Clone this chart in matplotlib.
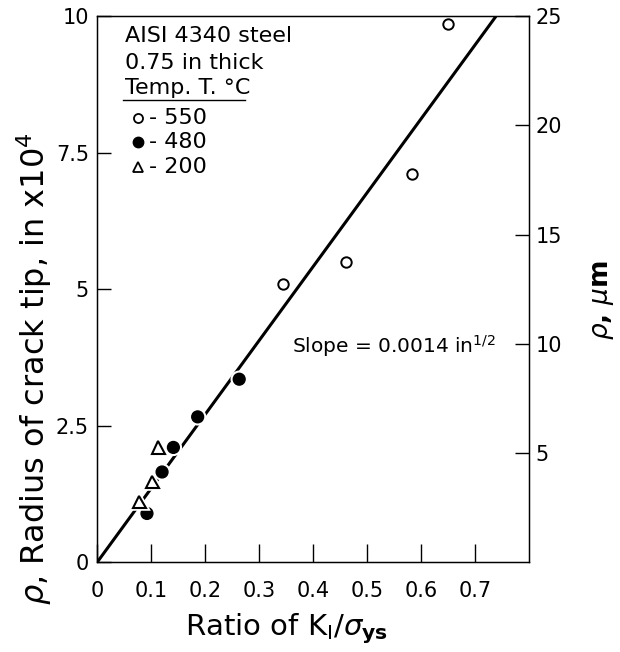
import numpy as np
import matplotlib
matplotlib.use("Agg")
import matplotlib.pyplot as plt
import matplotlib.patheffects as pe

plt.rcParams['font.family'] = ['DejaVu Sans']
plt.rcParams['mathtext.fontset'] = 'dejavusans'

# data (rho in units of 1e-4 in)
x_550 = [0.345, 0.461, 0.583, 0.650]
y_550 = [5.10, 5.50, 7.11, 9.85]
x_480 = [0.092, 0.120, 0.141, 0.186, 0.263]
y_480 = [0.89, 1.65, 2.10, 2.66, 3.35]
x_200 = [0.078, 0.102, 0.113]
y_200 = [1.10, 1.47, 2.10]
fit_x = [0.0, 0.739]
fit_y = [0.0, 10.0]

xticks = [0, 0.1, 0.2, 0.3, 0.4, 0.5, 0.6, 0.7]
xticklabels = ['0', '0.1', '0.2', '0.3', '0.4', '0.5', '0.6', '0.7']
yticks = [0, 2.5, 5, 7.5, 10]
yticklabels = ['0', '2.5', '5', '7.5', '10']
rticks = [5, 10, 15, 20, 25]

fig = plt.figure(figsize=(6.2, 6.52), dpi=100)
ax = fig.add_axes([0.157, 0.138, 0.853 - 0.157, 0.975 - 0.138])

halo = [pe.withStroke(linewidth=4, foreground='white')]

ax.plot(fit_x, fit_y, color='black', lw=2.2, solid_capstyle='butt', zorder=2)
ax.plot(x_550, y_550, 'o', ms=7.5, mfc='white', mec='black', mew=1.4, zorder=3)
ax.plot(x_480, y_480, 'o', ms=8.5, mfc='black', mec='black', mew=1,
        path_effects=halo, zorder=3)
ax.plot(x_200, y_200, '^', ms=9, mfc='white', mec='black', mew=1.5,
        path_effects=halo, zorder=3)

ax.set_xlim(0, 0.8)
ax.set_ylim(0, 10)
ax.set_xticks(xticks)
ax.set_xticklabels(xticklabels)
ax.set_yticks(yticks)
ax.set_yticklabels(yticklabels)
ax.tick_params(axis='x', direction='in', length=13, width=1, labelsize=15, pad=14)
ax.tick_params(axis='y', direction='in', length=10, width=1, labelsize=15, pad=6)
for s in ax.spines.values():
    s.set_linewidth(1)

ax.set_xlabel(r'Ratio of K$_{\rm I}$/$\sigma_{\bf ys}$', fontsize=21)
ax.xaxis.set_label_coords(0.439, -0.09)
ax.set_ylabel(r'$\rho$, Radius of crack tip, in x10$^4$', fontsize=23)
ax.yaxis.set_label_coords(-0.10, 0.355)

ax2 = ax.twinx()
ax2.set_ylim(0, 25)
ax2.set_yticks(rticks)
ax2.tick_params(axis='y', direction='in', length=10, width=1, labelsize=15, pad=5)
ax2.set_ylabel(r'$\rho$, $\mu$m', fontsize=19, fontweight='bold')
ax2.yaxis.set_label_coords(1.141, 0.48)

ax.text(0.361, 3.96, r'Slope = 0.0014 in$^{1/2}$', fontsize=14.5, va='center', ha='left')

# legend block
tx = 0.064
ax.text(tx, 0.963, 'AISI 4340 steel', transform=ax.transAxes, fontsize=16, va='center')
ax.text(tx, 0.914, '0.75 in thick', transform=ax.transAxes, fontsize=16, va='center')
ax.text(tx, 0.868, 'Temp. T. °C', transform=ax.transAxes, fontsize=16, va='center')
ax.plot([0.059, 0.342], [0.846, 0.846], color='black', lw=1, transform=ax.transAxes)
ax.plot([0.094], [0.813], 'o', ms=6.5, mfc='white', mec='black', mew=1.3, transform=ax.transAxes)
ax.plot([0.094], [0.769], 'o', ms=7.5, mfc='black', mec='black', transform=ax.transAxes)
ax.plot([0.094], [0.723], '^', ms=7.5, mfc='white', mec='black', mew=1.3, transform=ax.transAxes)
ax.text(0.12, 0.813, '- 550', transform=ax.transAxes, fontsize=16, va='center')
ax.text(0.12, 0.769, '- 480', transform=ax.transAxes, fontsize=16, va='center')
ax.text(0.12, 0.723, '- 200', transform=ax.transAxes, fontsize=16, va='center')

fig.savefig('out.png', dpi=100)
